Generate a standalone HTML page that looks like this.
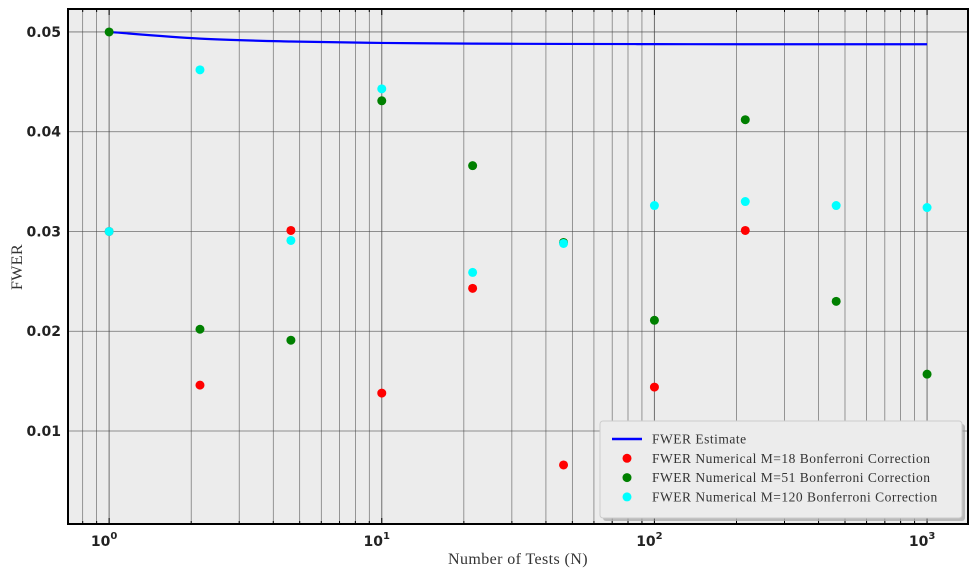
<!DOCTYPE html>
<html><head><meta charset="utf-8">
<style>
body{margin:0;background:#fff;}
svg{display:block;}
.tick{font-family:"DejaVu Sans","Liberation Sans",sans-serif;font-weight:bold;font-size:14px;fill:#222;}
.ser{font-family:"Liberation Serif","DejaVu Serif",serif;fill:#333;}
</style></head>
<body>
<svg id="chart" width="978" height="577"></svg>
<script>
const nValues=[1,2.154,4.642,10,21.54,46.42,100,215.4,464.2,1000];
const estimateValues=[0.05,0.04933,0.04904,0.04890,0.04883,0.04880,0.04878,0.04877,0.04877,0.04877];
const m18Values=[0.0300,0.0146,0.0301,0.0138,0.0243,0.0066,0.0144,0.0301,0.0060,0.0070];
const m51Values=[0.0500,0.0202,0.0191,0.0431,0.0366,0.0289,0.0211,0.0412,0.0230,0.0157];
const m120Values=[0.0300,0.0462,0.0291,0.0443,0.0259,0.0288,0.0326,0.0330,0.0326,0.0324];
const yTicks=[0.01,0.02,0.03,0.04,0.05];
const xTickExps=[0,1,2,3];

const NS="http://www.w3.org/2000/svg";
const svg=document.getElementById('chart');
const L=68,R=968,T=9,B=524;
const xmin=Math.log10(0.7066),xmax=Math.log10(1413);
const ymin=0.00068,ymax=0.0523;
function xs(v){return L+(Math.log10(v)-xmin)/(xmax-xmin)*(R-L);}
function ys(v){return B-(v-ymin)/(ymax-ymin)*(B-T);}
function mk(tag,attrs,parent){const e=document.createElementNS(NS,tag);for(const k in attrs)e.setAttribute(k,attrs[k]);(parent||svg).appendChild(e);return e;}

const bg=mk('rect',{x:L,y:T,width:R-L,height:B-T,fill:'#ececec'});



const grid=mk('g',{});


for(let d=-1;d<=3;d++){for(let m=1;m<10;m++){const v=m*Math.pow(10,d);const x=xs(v);if(x<=L||x>=R)continue;
 mk('line',{x1:x,x2:x,y1:T,y2:B,stroke:'#444','stroke-width':m===1?1:0.7,opacity:0.75},grid);
 mk('line',{x1:x,x2:x,y1:B,y2:B-(m===1?6:3),stroke:'#000','stroke-width':1},grid);
 mk('line',{x1:x,x2:x,y1:T,y2:T+(m===1?6:3),stroke:'#000','stroke-width':1},grid);}}
yTicks.forEach(v=>{const y=ys(v);mk('line',{x1:L,x2:R,y1:y,y2:y,stroke:'#444','stroke-width':0.8,opacity:0.75},grid);
 const t=mk('text',{x:L-7,y:y+5,'text-anchor':'end',class:'tick'});t.textContent=v.toFixed(2);
 
 });
xTickExps.forEach(e=>{const x=xs(Math.pow(10,e));const t=mk('text',{x:x-5,y:546,'text-anchor':'middle',class:'tick'});
 t.textContent='10';const s=mk('tspan',{dy:-7,'font-size':10},t);s.textContent=String(e);
 
 });

// smooth curve (Catmull-Rom through data points)
const P=nValues.map((n,i)=>[xs(n),ys(estimateValues[i])]);
let d='M'+P[0][0]+','+P[0][1];
for(let i=0;i<P.length-1;i++){const p0=P[Math.max(0,i-1)],p1=P[i],p2=P[i+1],p3=P[Math.min(P.length-1,i+2)];
 const c1=[p1[0]+(p2[0]-p0[0])/6,p1[1]+(p2[1]-p0[1])/6],c2=[p2[0]-(p3[0]-p1[0])/6,p2[1]-(p3[1]-p1[1])/6];
 d+=' C'+c1[0]+','+c1[1]+' '+c2[0]+','+c2[1]+' '+p2[0]+','+p2[1];}
const line=mk('path',{d:d,fill:'none',stroke:'#0000ff','stroke-width':2.2});



function pts(vals,color,name){const g=mk('g',{});
 
 
 vals.forEach((v,i)=>{const c=mk('circle',{cx:xs(nValues[i]),cy:ys(v),r:4.5,fill:color},g);
 
 });}
pts(m18Values,'#ff0000','m18-points');
pts(m51Values,'#008000','m51-points');
pts(m120Values,'#00ffff','m120-points');

const frame=mk('rect',{x:L,y:T,width:R-L,height:B-T,fill:'none',stroke:'#000','stroke-width':2});



const lg=mk('g',{});


mk('rect',{x:603,y:424,width:362,height:97,rx:3,fill:'#999',opacity:0.6},lg);
mk('rect',{x:600,y:421,width:362,height:97,rx:3,fill:'#ececec',stroke:'#ccc','stroke-width':1},lg);
const items=[['FWER Estimate','line','#0000ff'],['FWER Numerical M=18 Bonferroni Correction','dot','#ff0000'],['FWER Numerical M=51 Bonferroni Correction','dot','#008000'],['FWER Numerical M=120 Bonferroni Correction','dot','#00ffff']];
items.forEach((it,i)=>{const y=439+i*19.3;const g=mk('g',{},lg);
 
 
 if(it[1]==='line')mk('line',{x1:612,x2:642,y1:y,y2:y,stroke:it[2],'stroke-width':2.5},g);
 else mk('circle',{cx:627,cy:y,r:4.5,fill:it[2]},g);
 const t=mk('text',{x:652,y:y+4.5,class:'ser','font-size':13.5,'letter-spacing':0.5},g);t.textContent=it[0];});

const xl=mk('text',{x:518,y:564,'text-anchor':'middle',class:'ser','font-size':16,'letter-spacing':0.4});xl.textContent='Number of Tests (N)';


const yl=mk('text',{x:22,y:267,'text-anchor':'middle',class:'ser','font-size':16,'letter-spacing':0.4,transform:'rotate(-90 22 267)'});yl.textContent='FWER';


</script>
</body></html>
